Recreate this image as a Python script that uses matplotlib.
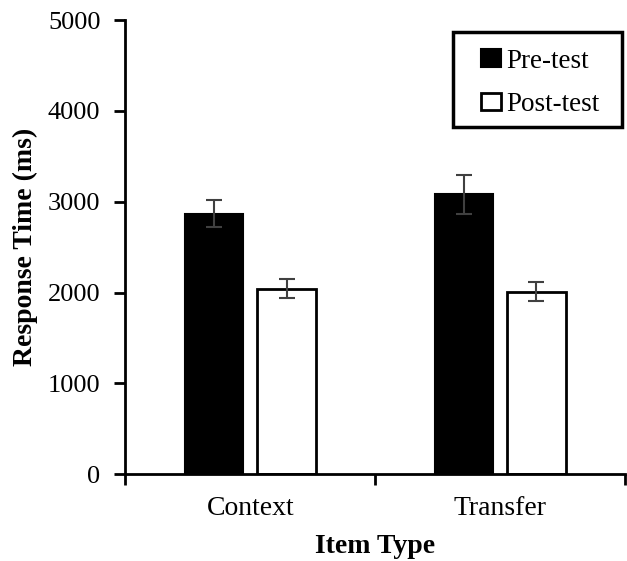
import numpy as np
import matplotlib.pyplot as plt
from matplotlib.patches import Rectangle

# Data
item_types = ["Context", "Transfer"]
pre_test = [2870, 3080]
post_test = [2040, 2010]
pre_err = [150, 220]
post_err = [105, 105]

plt.rcParams['font.family'] = ['Liberation Serif', 'DejaVu Serif']

fig = plt.figure(figsize=(6.27, 5.61), dpi=100)
ax = fig.add_axes([0.2, 0.155, 0.797, 0.809])

x = np.arange(len(item_types))
width = 0.235
offset = 0.145

ax.bar(x - offset, pre_test, width, color="black", edgecolor="black",
       linewidth=1.5, label="Pre-test", zorder=2)
ax.bar(x + offset, post_test, width, color="white", edgecolor="black",
       linewidth=2, label="Post-test", zorder=2)
ax.errorbar(x - offset, pre_test, yerr=pre_err, fmt="none", ecolor="#404040",
            elinewidth=1.5, capsize=6, capthick=1.5, zorder=3)
ax.errorbar(x + offset, post_test, yerr=post_err, fmt="none", ecolor="#404040",
            elinewidth=1.5, capsize=6, capthick=1.5, zorder=3)

ax.set_xlim(-0.5, 1.5)
ax.set_ylim(0, 5000)
ax.set_yticks(np.arange(0, 5001, 1000))
ax.set_xticks(x)
ax.set_xticklabels(item_types, fontsize=20)
ax.set_xticks([-0.5, 0.5, 1.5], minor=True)
ax.tick_params(axis="x", which="major", length=0, pad=16)
ax.tick_params(axis="x", which="minor", length=8, width=2, direction="out")
ax.tick_params(axis="y", labelsize=19, length=8, width=2, direction="out", pad=10)

for side in ["top", "right"]:
    ax.spines[side].set_visible(False)
for side in ["left", "bottom"]:
    ax.spines[side].set_linewidth(2)

ax.set_ylabel("Response Time (ms)", fontsize=20, fontweight="bold", labelpad=7)
ax.set_xlabel("Item Type", fontsize=20, fontweight="bold", labelpad=9)

# legend: entries without frame, box drawn separately (wider side padding)
leg = ax.legend(loc="upper left", bbox_to_anchor=(0.7116, 0.937), fontsize=19.5,
                frameon=False, handlelength=0.74, handleheight=0.63,
                handletextpad=0.18, labelspacing=0.67, borderpad=0,
                borderaxespad=0)
leg.legend_handles[1].set_linewidth(2)
ax.add_patch(Rectangle((0.6556, 0.7647), 0.9938 - 0.6556, 0.974 - 0.7647,
                       transform=ax.transAxes, fill=False, edgecolor="black",
                       linewidth=2.5, clip_on=False, zorder=4))

fig.savefig("out.png", dpi=100)
